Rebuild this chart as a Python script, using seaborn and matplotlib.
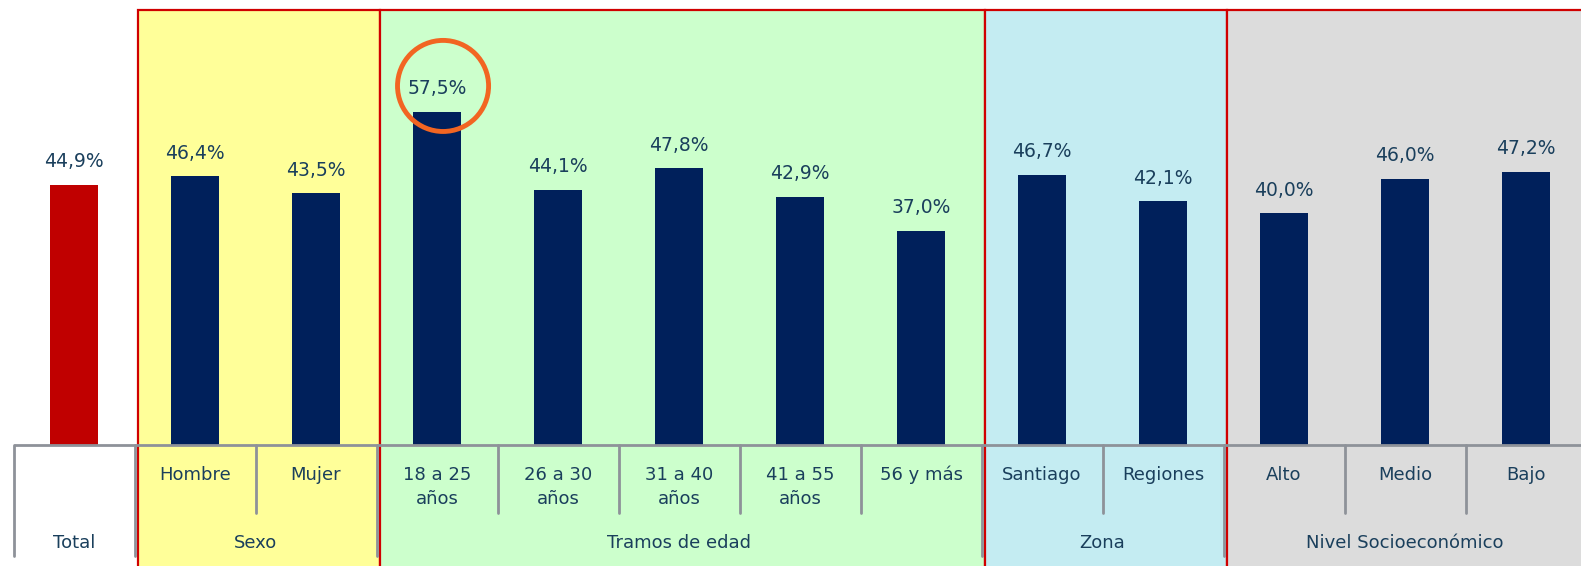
import matplotlib
matplotlib.use("Agg")
import matplotlib.pyplot as plt
import matplotlib.patches as mpatches
import seaborn as sns
import pandas as pd

# categories and values (%)
categorias = ["Total", "Hombre", "Mujer", "18 a 25\naños", "26 a 30\naños",
              "31 a 40\naños", "41 a 55\naños", "56 y más", "Santiago",
              "Regiones", "Alto", "Medio", "Bajo"]
valores = [44.9, 46.4, 43.5, 57.5, 44.1, 47.8, 42.9, 37.0, 46.7, 42.1, 40.0, 46.0, 47.2]

# groups: (label, first index, last index)
grupos = ["Total", "Sexo", "Tramos de edad", "Zona", "Nivel Socioeconómico"]
grupo_inicio = [0, 1, 3, 8, 10]
grupo_fin = [0, 2, 7, 9, 12]
grupo_fondo = ["white", "#FFFF99", "#CCFFCC", "#C4ECF2", "#DCDCDC"]

df = pd.DataFrame({"categoria": categorias, "valor": valores})

sns.set_style("white")
plt.rcParams["font.family"] = ["DejaVu Sans"]
texto = "#1A3F5C"
gris = "#8E9299"

fig = plt.figure(figsize=(15.81, 5.66), dpi=100)
ax = fig.add_axes([0, 0, 1, 1])

px = 333 / 57.5  # pixels per percentage point
ymin, ymax = -121 / px, 445 / px
xmin, xmax = -74 / 121, (1581 - 74) / 121

# group backgrounds with red frame
for g, (i0, i1, fc) in enumerate(zip(grupo_inicio, grupo_fin, grupo_fondo)):
    if g == 0:
        continue
    rect = mpatches.Rectangle((i0 - 0.47, ymin - 1), i1 - i0 + 1, 75.1 - ymin + 1,
                              facecolor=fc, edgecolor="#D00000", lw=1.6, zorder=0)
    ax.add_patch(rect)

colores = ["#C00000"] + ["#00205B"] * (len(categorias) - 1)
sns.barplot(data=df, x="categoria", y="valor", hue="categoria", palette=colores,
            order=categorias, width=0.4, legend=False, saturation=1, linewidth=0,
            ax=ax, zorder=2)

for i, v in enumerate(valores):
    ax.annotate(f"{v:.1f}%".replace(".", ","), (i, v), xytext=(0, 23),
                textcoords="offset pixels", ha="center", va="center",
                fontsize=13.5, color=texto)

# highlight maximum
imax = valores.index(max(valores))
ax.scatter([imax + 0.05], [max(valores) + 4.5], s=4300, facecolors="none",
           edgecolors="#F26522", linewidths=3.5, zorder=5)

# table below the bars
ax.plot([-0.5, xmax], [0, 0], color=gris, lw=2, zorder=4, solid_capstyle="butt")
bordes = [i0 - 0.5 for i0 in grupo_inicio]
for b in bordes:
    ax.plot([b, b], [0, -111 / px], color=gris, lw=2, zorder=4)
for i0, i1 in zip(grupo_inicio, grupo_fin):
    for k in range(i0 + 1, i1 + 1):
        ax.plot([k - 0.5, k - 0.5], [0, -68 / px], color=gris, lw=2, zorder=4)

for i, c in enumerate(categorias):
    if i == 0:
        continue
    ax.text(i, -21 / px, c, ha="center", va="top", fontsize=13, color=texto,
            linespacing=1.45)
for g, i0, i1 in zip(grupos, grupo_inicio, grupo_fin):
    ax.text((i0 + i1) / 2, -98 / px, g, ha="center", va="center", fontsize=13,
            color=texto)

ax.set_xlim(xmin, xmax)
ax.set_ylim(ymin, ymax)
ax.set_axis_off()

fig.savefig("out.png", dpi=100)
